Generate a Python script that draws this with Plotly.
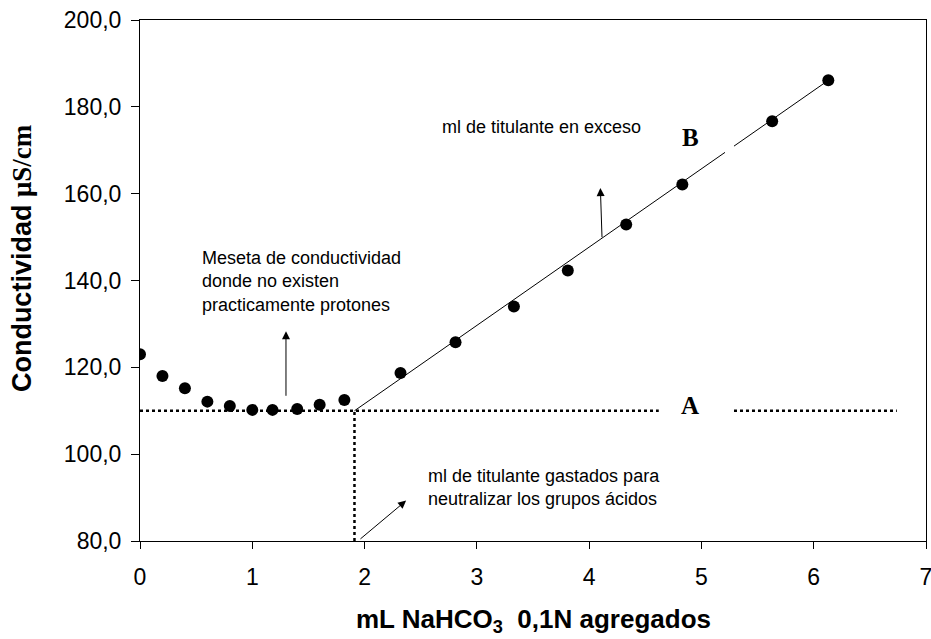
import plotly.graph_objects as go

# Data
vol_ml = [0.0, 0.2, 0.4, 0.6, 0.8, 1.0, 1.18, 1.4, 1.6, 1.82,
          2.32, 2.81, 3.33, 3.81, 4.33, 4.83, 5.63, 6.13]
conductividad = [123.0, 118.0, 115.2, 112.1, 111.1, 110.2, 110.2, 110.4, 111.4, 112.5,
                 118.7, 125.8, 134.0, 142.3, 152.9, 162.1, 176.7, 186.1]

# Fitted line of the excess-titrant branch (endpoints), with the small break seen in the figure
fit_x = [1.91, 6.13]
fit_y = [110.0, 186.1]
fit_break_x = [5.21, 5.29]

# Plateau level (dotted) and equivalence volume
plateau_y = 110.0
plateau_segments = [[0.0, 4.62], [5.29, 6.74]]
equiv_x = 1.91

y_ticks = [80, 100, 120, 140, 160, 180, 200]
x_ticks = [0, 1, 2, 3, 4, 5, 6, 7]

SANS = "Liberation Sans, Arial, sans-serif"
NARROW = "Liberation Sans Narrow, Arial Narrow, Liberation Sans, sans-serif"
SERIF = "Liberation Serif, Times New Roman, serif"

fig = go.Figure()

def fit_at(x):
    return fit_y[0] + (fit_y[1] - fit_y[0]) * (x - fit_x[0]) / (fit_x[1] - fit_x[0])

# fitted line in two pieces
fig.add_trace(go.Scatter(x=[fit_x[0], fit_break_x[0]], y=[fit_y[0], fit_at(fit_break_x[0])],
                         mode="lines", line=dict(color="black", width=1), showlegend=False))
fig.add_trace(go.Scatter(x=[fit_break_x[1], fit_x[1]], y=[fit_at(fit_break_x[1]), fit_y[1]],
                         mode="lines", line=dict(color="black", width=1), showlegend=False))

# plateau dotted line
for seg in plateau_segments:
    fig.add_trace(go.Scatter(x=seg, y=[plateau_y, plateau_y], mode="lines",
                             line=dict(color="black", width=2.5, dash="dot"), showlegend=False))
# vertical dotted line at equivalence
fig.add_trace(go.Scatter(x=[equiv_x, equiv_x], y=[y_ticks[0], plateau_y], mode="lines",
                         line=dict(color="black", width=2.5, dash="dot"), showlegend=False))

# data points
fig.add_trace(go.Scatter(x=vol_ml, y=conductividad, mode="markers",
                         marker=dict(color="black", size=12), showlegend=False))

txt_font = dict(family=SANS, size=18, color="black")
arrow = dict(xref="x", yref="y", axref="x", ayref="y", text="", showarrow=True,
             arrowhead=2, arrowsize=1.6, arrowwidth=1, arrowcolor="black")
annotations = [
    dict(x=0.53, y=145.5, text="Meseta de conductividad<br>donde no existen<br>practicamente protones",
         xanchor="left", yanchor="top", align="left", showarrow=False, font=txt_font, yshift=11),
    dict(x=2.67, y=175.3, text="ml de titulante en exceso", xanchor="left", yanchor="middle",
         showarrow=False, font=txt_font),
    dict(x=2.55, y=95.2, text="ml de titulante gastados para<br>neutralizar los grupos ácidos",
         xanchor="left", yanchor="top", align="left", showarrow=False, font=txt_font, yshift=11),
    dict(x=4.90, y=173.0, text="<b>B</b>", showarrow=False,
         font=dict(family=SERIF, size=25, color="black")),
    dict(x=4.90, y=111.3, text="<b>A</b>", showarrow=False,
         font=dict(family=SERIF, size=25, color="black")),
    # arrows
    dict(x=1.30, y=128.3, ax=1.30, ay=113.1, **arrow),
    dict(x=4.10, y=161.3, ax=4.115, ay=149.6, **arrow),
    dict(x=2.37, y=89.3, ax=1.95, ay=80.2, **arrow),
    # axis titles
    dict(x=0, y=0.543, xref="paper", yref="paper", xanchor="center", yanchor="middle",
         xshift=-118, textangle=-90, showarrow=False,
         text="<b>Conductividad <span style='font-family:Liberation Serif'>μS/cm</span></b>",
         font=dict(family=SANS, size=27, color="black")),
    dict(x=0.5, y=-0.152, xref="paper", yref="paper", xanchor="center", yanchor="middle",
         showarrow=False, text="<b>mL NaHCO<sub>3</sub>  0,1N agregados</b>",
         font=dict(family=NARROW, size=26, color="black")),
]

fig.update_layout(
    width=931, height=639,
    margin=dict(l=140, r=5, t=20, b=98),
    paper_bgcolor="white", plot_bgcolor="white",
    separators=",.",
    annotations=annotations,
    xaxis=dict(range=[0, 7], tickvals=x_ticks, showgrid=False, zeroline=False,
               showline=True, linecolor="black", linewidth=1, mirror=True,
               ticks="outside", ticklen=7, tickcolor="black", ticklabelstandoff=8,
               ticklabeloverflow="allow", automargin=False,
               tickfont=dict(family=NARROW, size=23, color="black")),
    yaxis=dict(range=[80, 200], tickvals=y_ticks, tickformat=".1f", showgrid=False, zeroline=False,
               showline=True, linecolor="black", linewidth=1, mirror=True,
               ticks="outside", ticklen=8, tickcolor="black", ticklabelstandoff=5,
               automargin=False,
               tickfont=dict(family=SANS, size=23, color="black")),
)

fig.write_html("out.html", config={"displayModeBar": False},
               post_script="document.body.style.margin='0';document.body.style.overflow='hidden';")
